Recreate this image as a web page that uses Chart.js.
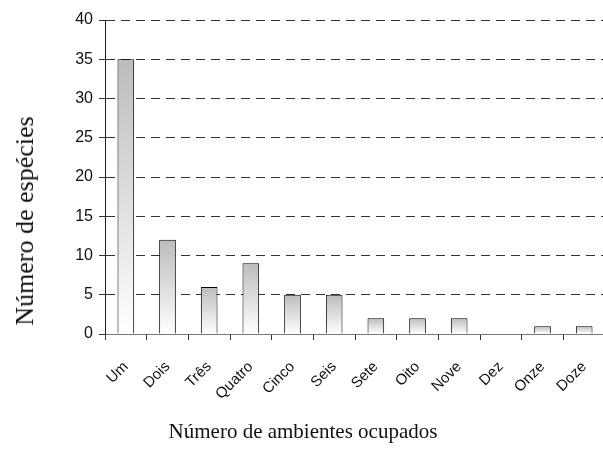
<!DOCTYPE html>
<html>
<head>
<meta charset="utf-8">
<script src="https://cdn.jsdelivr.net/npm/chart.js@4.4.1/dist/chart.umd.min.js"></script>
<style>
  html, body { margin: 0; padding: 0; background: #fff; overflow: hidden; }
  #wrap { position: relative; width: 603px; height: 468px; overflow: hidden; }
  #grafico { position: absolute; left: 0; top: 0; }
  .titulo { position: absolute; font-family: "Liberation Serif", "DejaVu Serif", serif; color: #111; white-space: nowrap; }
  #tituloX { left: 0; width: 606px; text-align: center; top: 419px; font-size: 21px; }
  #tituloY { left: 25px; top: 221px; font-size: 26px; transform: translate(-50%, -50%) rotate(-90deg); }
</style>
</head>
<body>
<div id="wrap">
  <canvas id="grafico" width="615" height="468"></canvas>
  <div id="tituloX" class="titulo">Número de ambientes ocupados</div>
  <div id="tituloY" class="titulo">Número de espécies</div>
</div>
<script>
// dados
const categorias = ['Um', 'Dois', 'Três', 'Quatro', 'Cinco', 'Seis', 'Sete', 'Oito', 'Nove', 'Dez', 'Onze', 'Doze'];
const especies = [35, 12, 6, 9, 5, 5, 2, 2, 2, 0, 1, 1];
const ticksY = [0, 5, 10, 15, 20, 25, 30, 35, 40];

// gradiente por barra: cinza em cima, branco embaixo
function corBarra(context) {
    const chart = context.chart;
    const { ctx, chartArea, scales } = chart;
    if (!chartArea || !scales.y) return '#d0d0d0';
    const valor = context.raw || 0;
    const topo = scales.y.getPixelForValue(valor);
    const base = scales.y.getPixelForValue(0);
    if (base - topo < 1) return '#ffffff';
    const grad = ctx.createLinearGradient(0, topo, 0, base);
    grad.addColorStop(0, '#bcbcbc');
    grad.addColorStop(1, '#ffffff');
    return grad;
}

const ctx = document.getElementById('grafico').getContext('2d');
new Chart(ctx, {
    type: 'bar',
    data: {
        labels: categorias,
        datasets: [{
            data: especies,
            backgroundColor: corBarra,
            borderColor: '#000',
            borderWidth: 1,
            categoryPercentage: 1,
            barPercentage: 0.4
        }]
    },
    options: {
        responsive: false,
        animation: false,
        layout: { padding: { top: 20, right: 2, left: 0, bottom: 0 } },
        plugins: {
            legend: { display: false },
            tooltip: { enabled: false }
        },
        scales: {
            x: {
                afterFit: (scale) => { scale.height = 134; },
                grid: {
                    offset: true,
                    drawOnChartArea: false,
                    drawTicks: true,
                    tickLength: 6,
                    tickColor: '#333'
                },
                border: { color: '#777', width: 1 },
                ticks: {
                    maxRotation: 45,
                    minRotation: 45,
                    padding: 18,
                    color: '#111',
                    font: { family: 'Liberation Sans', size: 15 }
                }
            },
            y: {
                min: 0,
                max: 40,
                afterFit: (scale) => { scale.width = 105; },
                afterBuildTicks: (scale) => { scale.ticks = ticksY.map(v => ({ value: v })); },
                grid: {
                    color: '#333',
                    tickBorderDash: [],
                    tickLength: 6,
                    tickColor: '#333',
                    drawTicks: true
                },
                border: { color: '#222', width: 1, dash: [9, 6] },
                ticks: {
                    padding: 6,
                    color: '#111',
                    font: { family: 'Liberation Sans', size: 16 }
                }
            }
        }
    }
});
</script>
</body>
</html>
